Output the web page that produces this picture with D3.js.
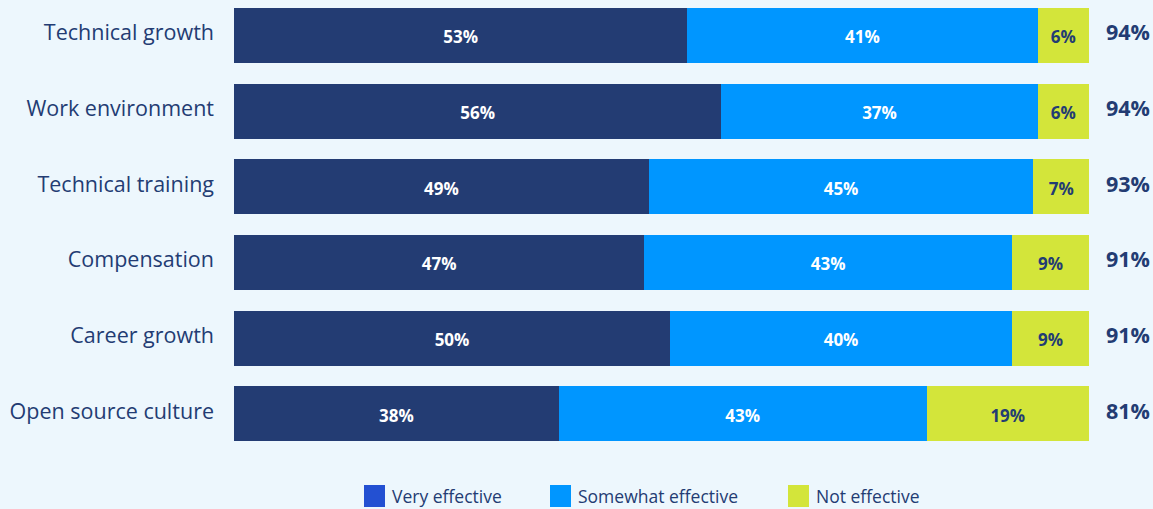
<!DOCTYPE html>
<html>
<head>
<meta charset="utf-8">
<script src="https://cdn.jsdelivr.net/npm/d3@7"></script>
<style>
  html, body { margin: 0; padding: 0; background: #edf7fd; }
  svg { display: block; font-family: "Open Sans", sans-serif; }
</style>
</head>
<body>
<script>
var categories = ["Technical growth", "Work environment", "Technical training", "Compensation", "Career growth", "Open source culture"];
var seriesNames = ["Very effective", "Somewhat effective", "Not effective"];
// segment widths (percent)
var veryEffective = [53, 57, 48.5, 48, 51, 38];
var somewhatEffective = [41, 37, 45, 43, 40, 43];
var notEffective = [6, 6, 6.5, 9, 9, 19];
// printed labels
var veryLabels = ["53%", "56%", "49%", "47%", "50%", "38%"];
var somewhatLabels = ["41%", "37%", "45%", "43%", "40%", "43%"];
var notLabels = ["6%", "6%", "7%", "9%", "9%", "19%"];
var totalLabels = ["94%", "94%", "93%", "91%", "91%", "81%"];

var width = 1153, height = 509;
var barColors = ["#233c73", "#0096ff", "#d3e53a"];
var legendColors = ["#2350d2", "#0096ff", "#d3e53a"];
var navy = "#233c73";

var svg = d3.select("body").append("svg")
  .attr("width", width)
  .attr("height", height);

var x = d3.scaleLinear().domain([0, 100]).range([234, 1089]);
var y = d3.scaleBand().domain(categories).range([8, 441]).paddingInner(0.28).paddingOuter(0);

var rows = categories.map(function(c, i) {
  var vals = [veryEffective[i], somewhatEffective[i], notEffective[i]];
  var labs = [veryLabels[i], somewhatLabels[i], notLabels[i]];
  var start = 0;
  return vals.map(function(v, k) {
    var seg = { cat: c, k: k, x0: start, x1: start + v, label: labs[k] };
    start += v;
    return seg;
  });
});
var segs = [].concat.apply([], rows);

svg.selectAll("rect.seg").data(segs)
  .enter()
  .append("rect")
  .attr("class", "seg")
  .attr("x", function(d) { return Math.round(x(d.x0)); })
  .attr("y", function(d) { return Math.round(y(d.cat)); })
  .attr("width", function(d) { return Math.round(x(d.x1)) - Math.round(x(d.x0)); })
  .attr("height", Math.round(y.bandwidth()))
  .attr("shape-rendering", "crispEdges")
  .attr("fill", function(d) { return barColors[d.k]; });

svg.selectAll("text.seg").data(segs)
  .enter()
  .append("text")
  .attr("class", "seg")
  .attr("x", function(d) { return (x(d.x0) + x(d.x1)) / 2; })
  .attr("y", function(d) { return y(d.cat) + y.bandwidth() / 2 + 8; })
  .attr("text-anchor", "middle")
  .attr("font-size", "17px")
  .attr("font-weight", "bold")
  .attr("fill", function(d) { return d.k === 2 ? navy : "#ffffff"; })
  .text(function(d) { return d.label; });

// category labels
svg.selectAll("text.cat").data(categories)
  .enter()
  .append("text")
  .attr("class", "cat")
  .attr("x", 214)
  .attr("y", function(d) { return y(d) + y.bandwidth() / 2 + 5; })
  .attr("text-anchor", "end")
  .attr("font-size", "21.5px")
  .attr("fill", navy)
  .text(function(d) { return d; });

// totals
svg.selectAll("text.total").data(categories)
  .enter()
  .append("text")
  .attr("class", "total")
  .attr("x", 1128)
  .attr("y", function(d) { return y(d) + y.bandwidth() / 2 + 5; })
  .attr("text-anchor", "middle")
  .attr("font-size", "21.5px")
  .attr("font-weight", "bold")
  .attr("fill", navy)
  .text(function(d, i) { return totalLabels[i]; });

// legend
var legendX = [364, 550, 788];
var legend = svg.selectAll("g.legend").data(seriesNames)
  .enter()
  .append("g")
  .attr("class", "legend")
  .attr("transform", function(d, i) { return "translate(" + legendX[i] + ",485)"; });

legend.append("rect")
  .attr("width", 21)
  .attr("height", 22)
  .attr("fill", function(d, i) { return legendColors[i]; });

legend.append("text")
  .attr("x", 28)
  .attr("y", 18)
  .attr("font-size", "17.5px")
  .attr("fill", navy)
  .text(function(d) { return d; });
</script>
</body>
</html>
